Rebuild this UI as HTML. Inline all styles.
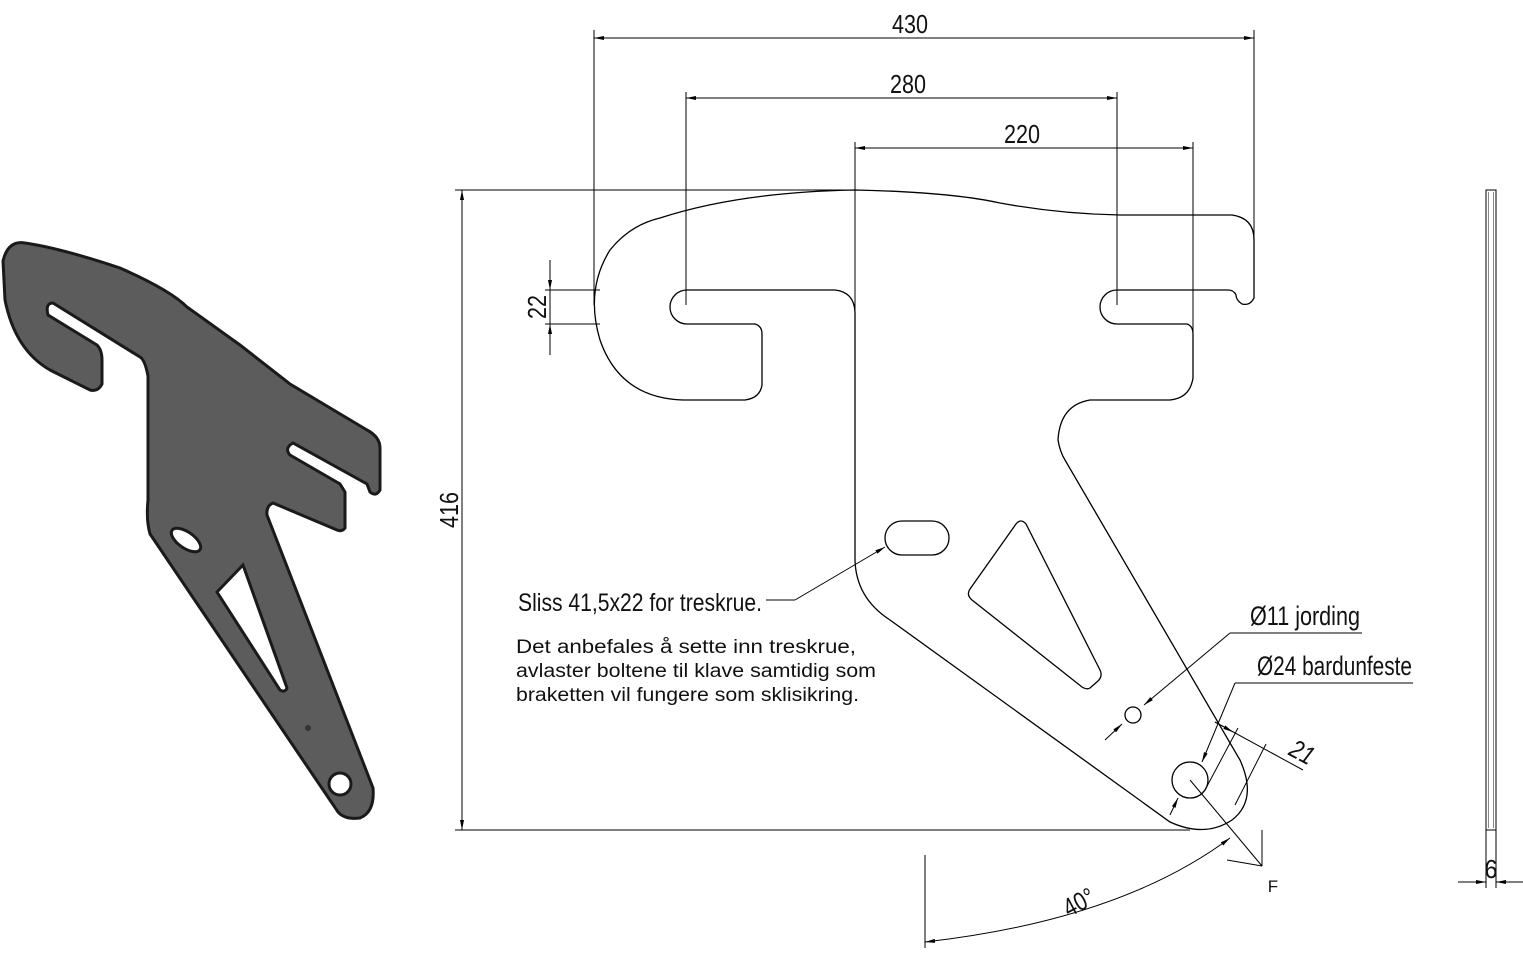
<!DOCTYPE html>
<html><head><meta charset="utf-8"><style>
html,body{margin:0;padding:0;background:#fff;}
svg{display:block;}
text{font-family:"Liberation Sans",sans-serif;fill:#111;}
</style></head><body>
<svg width="1523" height="960" viewBox="0 0 1523 960" xmlns="http://www.w3.org/2000/svg">
<defs>
<marker id="a" viewBox="0 0 10 4" refX="10" refY="2" markerWidth="10" markerHeight="4" orient="auto-start-reverse" markerUnits="userSpaceOnUse"><path d="M0,0 L10,2 L0,4z" fill="#000"/></marker>
</defs>
<!-- 3D part -->
<path d="M3,261 Q8,240 25,243 Q60,248 120,268 Q170,290 187,307 L240,345 L290,384 L367,430 Q380,437 380,448 L380,490 Q376,497 370,492 L367,484 L293,443 Q284,448 290,455 L340,484 L345,492 L345,528 Q342,532 337,530 L273,503 Q266,506 267,515 L373,788 Q375,812 360,818 Q345,820 338,812 L150,534 Q146,520 148,500 L148,376 Q145,360 140,357 L53,303 Q45,303 48,315 L97,345 Q102,350 102,360 L102,384 Q98,392 90,390 L50,370 Q15,350 5,300 Z" fill="#5c5c5c" stroke="#1a1a1a" stroke-width="3"/>
<ellipse cx="186" cy="540" rx="17" ry="8" transform="rotate(35 186 540)" fill="#fff" stroke="#1a1a1a" stroke-width="3"/>
<path d="M217,592 L243,565 L287,688 Q285,693 280,690 Z" fill="#fff" stroke="#1a1a1a" stroke-width="3"/>
<circle cx="308" cy="728" r="3" fill="#333"/>
<circle cx="340" cy="784" r="11" fill="#fff" stroke="#1a1a1a" stroke-width="3"/>

<g fill="none" stroke="#000" stroke-width="1.3">
<path d="M660,218 Q740,192 855,190 Q950,192 1000,203 Q1060,214 1120,215 L1232,215 Q1254,218 1254,240 L1254,298 Q1250,306 1242,304 Q1236,300 1236,295 Q1234,290 1228,290 L1117,290 A17,17 0 0 0 1117,324 L1187,324 Q1193,326 1193,334 L1193,378 Q1190,398 1170,400 L1090,400 Q1060,405 1058,440 Q1060,452 1065,460 L1240,760 Q1258,800 1232,820 Q1205,838 1170,822 L890,620 Q856,598 855,560 L855,312 Q854,292 835,290 L687,290 A17,17 0 0 0 687,324 L755,324 Q762,326 762,334 L762,385 Q760,398 745,400 L683,400 Q620,398 600,340 Q585,290 610,250 Q630,225 660,218 Z"/>
<rect x="885" y="521" width="64" height="34" rx="17"/>
<path d="M1016,524 Q1021,518 1026,524 L1100,670 Q1103,676 1098,681 L1090,688 Q1087,690 1082,687 L972,600 Q966,595 970,589 Z"/>
<circle cx="1133" cy="715" r="8"/>
<circle cx="1190" cy="780" r="18"/>
</g>

<g fill="none" stroke="#000" stroke-width="1">
<line x1="594" y1="30" x2="594" y2="305"/>
<line x1="1254" y1="30" x2="1254" y2="240"/>
<line x1="686" y1="92" x2="686" y2="305"/>
<line x1="1117" y1="92" x2="1117" y2="305"/>
<line x1="855" y1="142" x2="855" y2="312"/>
<line x1="1193" y1="142" x2="1193" y2="334"/>
<line x1="455" y1="190" x2="855" y2="190"/>
<line x1="455" y1="830" x2="1190" y2="830"/>
<line x1="545" y1="290" x2="600" y2="290"/>
<line x1="545" y1="324" x2="600" y2="324"/>
<line x1="594" y1="38" x2="1254" y2="38" marker-start="url(#a)" marker-end="url(#a)"/>
<line x1="686" y1="98" x2="1117" y2="98" marker-start="url(#a)" marker-end="url(#a)"/>
<line x1="855" y1="148" x2="1193" y2="148" marker-start="url(#a)" marker-end="url(#a)"/>
<line x1="462" y1="190" x2="462" y2="830" marker-start="url(#a)" marker-end="url(#a)"/>
<line x1="550" y1="260" x2="550" y2="290" marker-end="url(#a)"/>
<line x1="550" y1="355" x2="550" y2="324" marker-end="url(#a)"/>
<line x1="550" y1="290" x2="550" y2="324"/>
<rect x="1486" y="190" width="10" height="640"/>
<line x1="1488.5" y1="192" x2="1488.5" y2="828" stroke="#888"/>
<line x1="1493.5" y1="192" x2="1493.5" y2="828" stroke="#888"/>
<line x1="1486" y1="830" x2="1486" y2="888"/>
<line x1="1496" y1="830" x2="1496" y2="888"/>
<line x1="1458" y1="882" x2="1486" y2="882" marker-end="url(#a)"/>
<line x1="1523" y1="882" x2="1496" y2="882" marker-end="url(#a)"/>
<line x1="925" y1="855" x2="925" y2="948"/>
<path d="M925,942 Q1120,920 1230,838" marker-start="url(#a)" marker-end="url(#a)"/>
<line x1="1190" y1="780" x2="1262" y2="866"/>
<line x1="1262" y1="830" x2="1262" y2="866"/>
<line x1="1227" y1="860" x2="1262" y2="866"/>
<line x1="1215" y1="722" x2="1303" y2="770"/>
<line x1="1238" y1="728" x2="1205" y2="790"/>
<line x1="1266" y1="744" x2="1235" y2="805"/>
<line x1="1215" y1="722" x2="1233" y2="732" marker-end="url(#a)"/>
<line x1="885" y1="547" x2="795" y2="600" marker-start="url(#a)"/>
<line x1="795" y1="600" x2="766" y2="600"/>
<line x1="1144" y1="705" x2="1230" y2="633" marker-start="url(#a)"/>
<line x1="1230" y1="633" x2="1362" y2="633"/>
<line x1="1122" y1="724" x2="1105" y2="740" marker-start="url(#a)"/>
<line x1="1202" y1="762" x2="1235" y2="683" marker-start="url(#a)"/>
<line x1="1235" y1="683" x2="1413" y2="683"/>
<line x1="1178" y1="798" x2="1170" y2="815" marker-start="url(#a)"/>
</g>

<text x="910" y="33" font-size="26" text-anchor="middle" textLength="36" lengthAdjust="spacingAndGlyphs">430</text>
<text x="908" y="93" font-size="26" text-anchor="middle" textLength="36" lengthAdjust="spacingAndGlyphs">280</text>
<text x="1022" y="143" font-size="26" text-anchor="middle" textLength="36" lengthAdjust="spacingAndGlyphs">220</text>
<text transform="translate(458,510) rotate(-90)" font-size="26" text-anchor="middle" textLength="36" lengthAdjust="spacingAndGlyphs">416</text>
<text transform="translate(546,307) rotate(-90)" font-size="26" text-anchor="middle" textLength="24" lengthAdjust="spacingAndGlyphs">22</text>
<text x="1491" y="878" font-size="26" text-anchor="middle" textLength="13" lengthAdjust="spacingAndGlyphs">6</text>
<text transform="translate(1083,910) rotate(-28)" font-size="26" text-anchor="middle" textLength="32" lengthAdjust="spacingAndGlyphs">40°</text>
<text x="1273" y="892" font-size="17" text-anchor="middle">F</text>
<text transform="translate(1298,760) rotate(28)" font-size="26" text-anchor="middle" font-style="italic" textLength="24" lengthAdjust="spacingAndGlyphs">21</text>
<text x="1250" y="625" font-size="27" textLength="110" lengthAdjust="spacingAndGlyphs">Ø11 jording</text>
<text x="1257" y="675" font-size="27" textLength="155" lengthAdjust="spacingAndGlyphs">Ø24 bardunfeste</text>
<text x="518" y="611" font-size="25" textLength="244" lengthAdjust="spacingAndGlyphs">Sliss 41,5x22 for treskrue.</text>
<text x="516" y="653" font-size="19" textLength="340" lengthAdjust="spacingAndGlyphs">Det anbefales å sette inn treskrue,</text>
<text x="516" y="677" font-size="19" textLength="360" lengthAdjust="spacingAndGlyphs">avlaster boltene til klave samtidig som</text>
<text x="516" y="701" font-size="19" textLength="343" lengthAdjust="spacingAndGlyphs">braketten vil fungere som sklisikring.</text>
</svg>
</body></html>
